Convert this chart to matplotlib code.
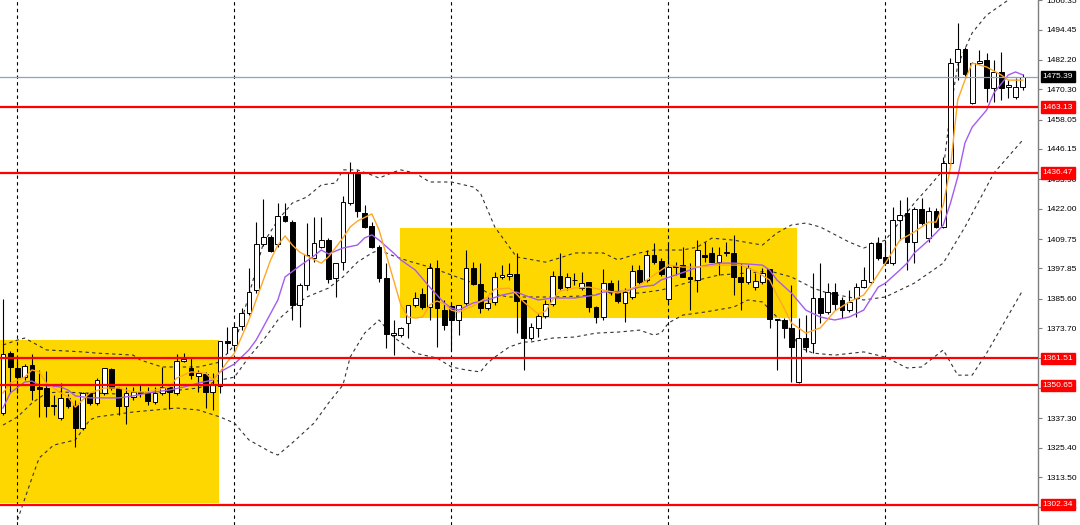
import matplotlib
matplotlib.use('Agg')
import matplotlib.pyplot as plt
import matplotlib.transforms as mtransforms
from matplotlib.patches import Rectangle

plt.rcParams['font.family'] = ['Liberation Sans', 'DejaVu Sans']

# candle data (oldest -> newest)
opens = [1339.4, 1363.6, 1357.6, 1353.9, 1358.8, 1349.9, 1349.5, 1342.6, 1337.4, 1345.5,
         1342.6, 1333.3, 1347.5, 1343.4, 1347.5, 1357.2, 1349.5, 1342.2, 1345.9, 1347.9,
         1347.5, 1343.8, 1347.5, 1349.9, 1347.5, 1360.4, 1357.6, 1354.3, 1355.2, 1347.9,
         1350.3, 1368.5, 1366.9, 1374.6, 1379.8, 1389.1, 1407.7, 1410.6, 1407.7, 1419.0,
         1416.6, 1383.1, 1391.1, 1402.1, 1406.5, 1409.3, 1394.0, 1400.4, 1424.3, 1436.0,
         1420.3, 1415.0, 1406.5, 1394.0, 1370.9, 1370.9, 1375.8, 1383.1, 1387.5, 1382.2,
         1398.0, 1381.0, 1382.7, 1377.0, 1383.9, 1398.0, 1391.6, 1381.8, 1384.3, 1394.4,
         1394.8, 1395.6, 1385.1, 1369.7, 1373.8, 1378.6, 1383.5, 1394.8, 1390.3, 1393.2,
         1389.9, 1392.4, 1382.2, 1378.2, 1392.0, 1388.7, 1383.9, 1386.3, 1397.2, 1393.2,
         1403.3, 1400.9, 1385.5, 1398.4, 1399.2, 1394.4, 1393.2, 1403.3, 1404.1, 1400.4,
         1404.1, 1404.1, 1394.4, 1392.4, 1390.3, 1392.4, 1397.6, 1377.4, 1377.0, 1373.8,
         1351.9, 1369.7, 1367.7, 1385.9, 1380.2, 1388.3, 1385.1, 1381.0, 1385.9, 1390.3,
         1392.4, 1408.1, 1402.5, 1400.0, 1417.4, 1420.3, 1408.5, 1421.9, 1410.2, 1421.1,
         1414.6, 1440.5, 1481.3, 1486.6, 1464.7, 1480.9, 1482.1, 1470.8, 1477.3, 1471.2,
         1467.2, 1471.2]
highs = [1385.5, 1364.5, 1362.0, 1359.2, 1363.2, 1356.8, 1356.4, 1346.7, 1351.5, 1347.1,
         1344.6, 1347.9, 1347.9, 1353.5, 1357.6, 1357.6, 1349.9, 1349.9, 1349.9, 1350.7,
         1349.9, 1349.9, 1358.0, 1350.3, 1363.2, 1363.6, 1361.6, 1356.8, 1356.0, 1355.6,
         1368.5, 1374.2, 1375.8, 1381.8, 1398.0, 1416.6, 1425.9, 1411.4, 1424.3, 1424.3,
         1417.4, 1392.0, 1416.2, 1418.6, 1418.6, 1410.2, 1400.0, 1427.1, 1440.9, 1437.7,
         1423.5, 1416.6, 1407.3, 1400.0, 1377.0, 1374.2, 1383.1, 1388.3, 1389.9, 1400.0,
         1401.3, 1385.1, 1383.9, 1383.1, 1405.3, 1400.4, 1400.0, 1386.3, 1396.4, 1399.2,
         1400.0, 1404.1, 1385.1, 1375.8, 1379.8, 1385.1, 1396.8, 1404.1, 1396.0, 1396.0,
         1396.4, 1392.4, 1382.7, 1397.6, 1393.2, 1393.2, 1389.9, 1399.2, 1399.2, 1405.3,
         1408.1, 1402.1, 1408.1, 1400.4, 1406.5, 1400.0, 1409.3, 1408.5, 1406.5, 1406.5,
         1408.5, 1411.4, 1400.0, 1399.2, 1396.0, 1398.0, 1397.6, 1377.4, 1377.8, 1391.1,
         1377.8, 1379.0, 1396.0, 1400.0, 1392.0, 1392.0, 1386.3, 1389.1, 1392.0, 1398.4,
         1408.5, 1410.6, 1409.3, 1422.7, 1425.5, 1426.7, 1422.7, 1426.3, 1422.7, 1422.3,
         1442.9, 1482.9, 1497.1, 1487.4, 1481.3, 1486.2, 1485.0, 1482.1, 1485.4, 1474.0,
         1474.9, 1476.5]
lows = [1338.6, 1347.5, 1347.5, 1352.7, 1344.6, 1337.8, 1337.8, 1338.6, 1336.6, 1341.4,
        1325.6, 1332.5, 1342.6, 1342.6, 1346.7, 1348.7, 1338.6, 1334.9, 1344.6, 1345.9,
        1342.6, 1343.0, 1346.7, 1341.0, 1346.7, 1360.0, 1353.1, 1347.9, 1341.4, 1340.6,
        1347.5, 1363.6, 1364.9, 1372.9, 1379.0, 1387.9, 1406.9, 1404.5, 1406.5, 1416.6,
        1377.0, 1374.2, 1389.1, 1400.4, 1406.1, 1392.0, 1386.3, 1397.2, 1423.5, 1418.6,
        1414.2, 1406.1, 1392.4, 1365.7, 1362.8, 1370.1, 1369.7, 1382.2, 1381.4, 1377.0,
        1366.1, 1372.9, 1364.9, 1370.9, 1383.1, 1391.1, 1379.8, 1381.0, 1383.1, 1393.6,
        1393.2, 1371.7, 1356.8, 1368.9, 1370.1, 1377.8, 1382.7, 1389.1, 1389.1, 1391.1,
        1389.1, 1380.2, 1375.8, 1377.0, 1387.1, 1383.9, 1376.2, 1385.5, 1391.6, 1392.4,
        1399.6, 1394.8, 1384.3, 1395.2, 1394.4, 1381.0, 1388.3, 1400.4, 1400.4, 1395.2,
        1402.9, 1387.1, 1381.0, 1391.6, 1389.1, 1391.6, 1373.8, 1356.8, 1369.7, 1351.9,
        1351.5, 1364.1, 1363.6, 1375.8, 1379.4, 1381.0, 1377.8, 1380.2, 1378.2, 1389.9,
        1391.6, 1401.3, 1399.2, 1399.2, 1409.3, 1397.2, 1400.0, 1415.4, 1408.5, 1414.2,
        1414.2, 1439.7, 1474.0, 1475.7, 1464.3, 1480.5, 1465.2, 1465.2, 1466.0, 1466.8,
        1466.4, 1470.0]
closes = [1363.2, 1358.0, 1353.9, 1358.4, 1348.7, 1349.1, 1342.2, 1342.2, 1345.5, 1342.2,
          1333.3, 1347.5, 1343.4, 1352.7, 1357.6, 1349.5, 1342.2, 1347.5, 1347.9, 1347.5,
          1344.2, 1347.5, 1349.9, 1347.9, 1360.4, 1361.2, 1354.7, 1355.6, 1347.9, 1350.7,
          1368.5, 1367.7, 1374.2, 1379.8, 1388.3, 1407.7, 1410.6, 1404.9, 1419.0, 1417.0,
          1383.1, 1391.1, 1403.3, 1408.1, 1409.3, 1393.6, 1400.0, 1424.7, 1436.4, 1421.1,
          1414.6, 1406.5, 1394.0, 1371.3, 1371.7, 1373.8, 1383.1, 1385.9, 1382.2, 1398.0,
          1381.8, 1375.0, 1377.0, 1383.1, 1398.0, 1391.6, 1381.8, 1383.9, 1394.4, 1395.2,
          1395.6, 1384.7, 1369.7, 1374.2, 1378.6, 1383.5, 1394.8, 1389.9, 1394.4, 1393.2,
          1392.0, 1382.2, 1378.2, 1392.0, 1388.3, 1384.7, 1388.3, 1396.8, 1392.4, 1403.3,
          1400.4, 1395.6, 1398.4, 1398.8, 1394.4, 1393.6, 1405.3, 1402.5, 1400.4, 1403.3,
          1404.3, 1394.4, 1392.4, 1398.0, 1392.8, 1396.0, 1377.4, 1377.0, 1373.8, 1366.1,
          1369.7, 1366.1, 1385.9, 1379.8, 1388.3, 1383.5, 1381.0, 1384.3, 1390.3, 1393.2,
          1408.1, 1402.1, 1400.0, 1417.4, 1419.5, 1408.5, 1421.9, 1416.2, 1421.1, 1414.6,
          1440.5, 1480.9, 1486.6, 1476.5, 1480.9, 1481.7, 1470.8, 1477.3, 1470.8, 1472.0,
          1471.2, 1475.39]

# fast MA (orange)
fast_idx = [0, 1, 3, 4, 5, 6, 8, 9, 10, 12, 14, 16, 18, 20, 21, 23, 24, 26, 28, 29,
            30, 31, 32, 34, 35, 36, 37, 38, 39, 40, 41, 42, 44, 45, 47, 48, 49, 51, 52, 53,
            54, 55, 56, 57, 58, 59, 60, 61, 62, 63, 65, 67, 68, 70, 71, 72, 74, 75, 76, 77,
            79, 81, 83, 85, 87, 88, 90, 92, 94, 96, 99, 102, 104, 106, 107, 108, 109, 111, 113, 115,
            117, 119, 120, 122, 124, 126, 128, 129, 130, 131, 132, 133, 134, 136, 138, 139, 141]
fast_val = [1347.5, 1351.5, 1353.9, 1356.8, 1356.0, 1351.5, 1347.5, 1345.9, 1341.8, 1347.5,
            1349.5, 1349.5, 1347.9, 1347.9, 1348.7, 1349.9, 1353.5, 1356.0, 1355.6, 1352.7,
            1356.0, 1360.0, 1363.6, 1377.0, 1385.1, 1393.2, 1401.3, 1407.3, 1411.0, 1407.3,
            1404.5, 1402.9, 1400.0, 1402.5, 1410.2, 1414.6, 1417.0, 1419.9, 1413.4, 1403.3,
            1393.2, 1383.1, 1378.2, 1377.8, 1378.2, 1383.1, 1384.7, 1383.5, 1381.0, 1380.2,
            1382.7, 1386.3, 1389.5, 1389.9, 1387.5, 1384.3, 1379.4, 1380.6, 1385.1, 1388.7,
            1389.9, 1390.3, 1389.1, 1387.9, 1389.9, 1391.1, 1395.2, 1399.2, 1398.4, 1398.4,
            1399.2, 1399.2, 1396.8, 1393.2, 1387.1, 1381.8, 1375.8, 1371.7, 1373.8, 1380.6,
            1384.3, 1387.1, 1391.1, 1400.0, 1409.3, 1412.6, 1416.6, 1416.6, 1423.5, 1438.9,
            1466.0, 1474.0, 1480.9, 1479.3, 1476.1, 1474.0, 1474.0]

# slow MA (purple)
slow_idx = [0, 1, 3, 4, 5, 8, 9, 10, 12, 15, 16, 18, 20, 23, 25, 27, 29, 30, 32, 34,
            35, 36, 38, 39, 41, 43, 44, 45, 47, 49, 50, 51, 52, 54, 55, 57, 59, 61, 62, 63,
            65, 67, 69, 71, 72, 74, 76, 79, 82, 83, 86, 88, 90, 91, 93, 95, 96, 99, 101, 103,
            105, 106, 107, 109, 111, 113, 115, 117, 119, 121, 122, 124, 125, 126, 128, 129, 130, 131, 132, 133,
            134, 136, 137, 139, 140, 141]
slow_val = [1341.4, 1347.5, 1351.9, 1352.3, 1350.7, 1349.9, 1348.7, 1346.3, 1345.5, 1345.5,
            1345.5, 1346.3, 1347.5, 1348.7, 1349.9, 1351.5, 1352.7, 1356.0, 1359.2, 1364.9,
            1368.9, 1374.2, 1385.1, 1394.4, 1398.8, 1402.9, 1405.3, 1403.7, 1406.1, 1407.3,
            1410.2, 1411.4, 1409.3, 1404.1, 1401.3, 1397.2, 1390.3, 1383.9, 1381.8, 1381.0,
            1383.9, 1385.1, 1387.1, 1388.3, 1387.1, 1385.1, 1385.9, 1385.9, 1387.1, 1388.3,
            1388.7, 1390.3, 1391.1, 1393.2, 1395.2, 1397.2, 1398.4, 1400.0, 1400.0, 1399.6,
            1399.2, 1397.2, 1393.2, 1387.9, 1381.0, 1378.2, 1377.0, 1378.2, 1381.0, 1390.3,
            1391.9, 1397.2, 1400.0, 1404.1, 1409.3, 1412.2, 1415.4, 1424.3, 1434.8, 1448.6,
            1455.0, 1461.9, 1468.8, 1476.1, 1477.3, 1476.1]

# bollinger bands (dashed)
bb_up_idx = [0, 2, 3, 6, 11, 13, 18, 19, 22, 24, 27, 30, 32, 34, 36, 38, 40, 42, 44, 46,
             47, 49, 51, 52, 54, 55, 57, 59, 62, 65, 66, 68, 71, 75, 77, 79, 83, 85, 88, 90,
             94, 96, 98, 101, 105, 107, 109, 111, 113, 117, 119, 122, 126, 128, 130, 131, 132, 134, 136, 139, 141]
bb_up_val = [1366.9, 1368.9, 1369.7, 1364.9, 1364.1, 1363.6, 1362.8, 1360.8, 1358.0, 1358.0,
             1358.0, 1360.0, 1366.9, 1387.1, 1408.1, 1417.4, 1424.3, 1426.7, 1431.6, 1432.4,
             1437.7, 1437.7, 1435.6, 1434.4, 1436.8, 1437.7, 1436.4, 1432.8, 1432.8, 1430.8,
             1428.4, 1414.6, 1402.5, 1400.4, 1402.1, 1404.1, 1404.1, 1401.3, 1404.1, 1405.3,
             1405.3, 1406.5, 1410.1, 1409.3, 1407.3, 1412.2, 1415.4, 1416.2, 1414.6, 1408.5,
             1406.1, 1409.3, 1424.3, 1430.8, 1437.7, 1461.9, 1480.1, 1493.1, 1500.3, 1506.4, 1509.6]
bb_mid_idx = [0, 2, 4, 6, 8, 11, 16, 22, 27, 30, 32, 34, 36, 37, 38, 40, 42, 45, 47, 49,
              51, 52, 54, 56, 59, 62, 65, 67, 70, 72, 76, 80, 84, 88, 91, 95, 99, 103, 106, 109,
              112, 114, 119, 122, 126, 130, 133, 137, 141]
bb_mid_val = [1334.5, 1337.8, 1343.4, 1347.5, 1347.9, 1347.5, 1347.1, 1347.9, 1349.5, 1352.7,
              1353.9, 1362.0, 1368.9, 1372.9, 1377.0, 1382.2, 1386.3, 1389.9, 1394.4, 1400.4,
              1404.1, 1405.3, 1402.9, 1400.9, 1398.4, 1395.2, 1392.0, 1387.9, 1386.3, 1386.3,
              1386.3, 1386.7, 1387.9, 1387.9, 1389.1, 1392.4, 1395.2, 1396.0, 1396.8, 1394.4,
              1389.9, 1387.9, 1385.1, 1386.3, 1391.9, 1400.0, 1414.6, 1436.4, 1449.8]
bb_low_idx = [2, 4, 5, 7, 10, 12, 13, 18, 24, 27, 30, 32, 34, 37, 38, 40, 43, 45, 47, 48,
              50, 52, 54, 57, 60, 62, 64, 66, 67, 68, 70, 72, 73, 76, 79, 82, 85, 88, 90, 91,
              92, 94, 97, 101, 103, 105, 107, 109, 110, 112, 115, 119, 122, 125, 127, 130, 132, 134, 136, 141]
bb_low_val = [1296.1, 1313.1, 1321.2, 1326.4, 1328.5, 1336.6, 1337.8, 1339.8, 1341.4, 1340.6,
              1337.8, 1335.3, 1328.5, 1323.6, 1322.4, 1327.3, 1335.3, 1343.4, 1350.7, 1362.0,
              1371.7, 1377.0, 1370.1, 1363.6, 1361.6, 1358.0, 1356.8, 1356.0, 1359.6, 1362.0,
              1366.1, 1368.1, 1368.1, 1369.7, 1370.1, 1371.7, 1372.1, 1372.9, 1370.9, 1371.7,
              1375.8, 1379.0, 1380.2, 1382.2, 1385.1, 1384.3, 1378.2, 1372.9, 1366.1, 1363.6,
              1362.8, 1364.1, 1362.0, 1357.6, 1358.0, 1364.9, 1354.7, 1354.7, 1363.6, 1389.1]

levels = [1463.13, 1436.47, 1361.51, 1350.65, 1302.34]
last_price = 1475.39

# highlighted ranges: start idx, end idx, low, high
zone_start = [-0.5, 54.9]
zone_end = [29.9, 109.8]
zone_low = [1303.0, 1377.8]
zone_high = [1368.9, 1414.2]

grid_idx = [2, 32, 62, 92, 122]
ytick_vals = [1506.35, 1494.45, 1482.20, 1470.30, 1458.05, 1446.15, 1433.90, 1422.00, 1409.75,
              1397.85, 1385.60, 1373.70, 1361.45, 1349.55, 1337.30, 1325.40, 1313.50, 1301.25]

fig = plt.figure(figsize=(10.8, 5.25), dpi=100)
ax = fig.add_axes([0, 0, 1038 / 1080, 1])
ax.set_xlim(-0.415, 143.1)
ax.set_ylim(1294.1, 1506.4)

for s, e, lo, hi in zip(zone_start, zone_end, zone_low, zone_high):
    ax.add_patch(Rectangle((s, lo), e - s, hi - lo, facecolor='#ffd700', edgecolor='none', zorder=0))

for g in grid_idx:
    ax.axvline(g, color='black', lw=0.8, linestyle=(0, (3, 3)), zorder=1)

dash = dict(color='#333333', lw=0.8, linestyle=(0, (3, 3)), zorder=2)
ax.plot(bb_up_idx, bb_up_val, **dash)
ax.plot(bb_mid_idx, bb_mid_val, **dash)
ax.plot(bb_low_idx, bb_low_val, **dash)

# candles
x = list(range(len(closes)))
ax.vlines(x, lows, highs, color='black', lw=0.8, zorder=3)
bottoms = [min(o, c) for o, c in zip(opens, closes)]
heights = [abs(c - o) for o, c in zip(opens, closes)]
faces = ['white' if c >= o else 'black' for o, c in zip(opens, closes)]
ax.bar(x, heights, bottom=bottoms, width=0.66, color=faces, edgecolor='black', lw=0.7, zorder=4)

ax.plot(slow_idx, slow_val, color='#a35cf0', lw=1.0, zorder=5)
ax.plot(fast_idx, fast_val, color='#ffa726', lw=1.0, zorder=5)

ax.axhline(last_price, color='#8fa2b6', lw=0.9, zorder=5)
for lv in levels:
    ax.axhline(lv, color='#ff0000', lw=1.6, zorder=6)

# right price scale
for side in ['top', 'left', 'bottom']:
    ax.spines[side].set_visible(False)
ax.spines['right'].set_color('#7f7f7f')
ax.spines['right'].set_linewidth(1.0)
ax.set_xticks([])
ax.yaxis.tick_right()
ax.set_yticks(ytick_vals)
ax.set_yticklabels(['%.2f' % v for v in ytick_vals])
ax.tick_params(axis='y', length=3, width=0.8, color='#7f7f7f', labelsize=6, pad=3, labelcolor='black')

trans = mtransforms.blended_transform_factory(ax.transAxes, ax.transData)
for lv in levels:
    ax.text(1.0045, lv, '%.2f' % lv, transform=trans, ha='left', va='center', fontsize=6,
            color='white', zorder=10, clip_on=False,
            bbox=dict(boxstyle='square,pad=0.25', fc='#ff0000', ec='#ff0000'))
ax.text(1.0045, last_price, '%.2f' % last_price, transform=trans, ha='left', va='center', fontsize=6,
        color='white', zorder=10, clip_on=False,
        bbox=dict(boxstyle='square,pad=0.25', fc='black', ec='black'))

fig.savefig('out.png', dpi=100)
